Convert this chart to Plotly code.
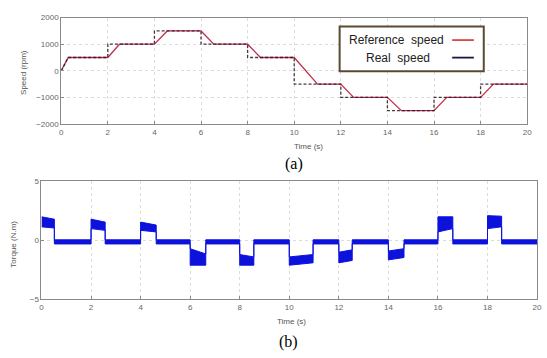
import plotly.graph_objects as go

W, H = 547, 358

# ---- Speed data (rpm) ----
ref_t = [0, 0.3, 2, 2.5, 4, 4.55, 6, 6.55, 8, 8.55, 10, 11, 12, 12.55, 14, 14.6, 16, 16.55, 18, 18.55, 20]
ref_v = [0, 500, 500, 1000, 1000, 1500, 1500, 1000, 1000, 500, 500, -500, -500, -1000, -1000, -1500, -1500, -1000, -1000, -500, -500]

real_t = [0, 0.3, 2, 2, 4, 4, 6, 6, 8, 8, 10, 10, 12, 12, 14, 14, 16, 16, 18, 18, 20]
real_v = [0, 500, 500, 1000, 1000, 1500, 1500, 1000, 1000, 500, 500, -500, -500, -1000, -1000, -1500, -1500, -1000, -1000, -500, -500]

# ---- Torque envelope (N.m) ----
torque_t = [0, 0.52, 0.52, 2, 2, 2.57, 2.57, 4, 4, 4.63, 4.63, 6, 6, 6.63, 6.63,
            8, 8, 8.57, 8.57, 10, 10, 10.96, 10.96, 12, 12, 12.54, 12.54,
            14, 14, 14.63, 14.63, 16, 16, 16.6, 16.6, 18, 18, 18.57, 18.57, 20]
torque_hi = [2.0, 1.8, 0.05, 0.05, 1.8, 1.55, 0.05, 0.05, 1.55, 1.3, 0.05, 0.05, -0.7, -1.15, 0.05,
             0.05, -1.2, -1.4, 0.05, 0.05, -1.4, -1.2, 0.05, 0.05, -1.0, -0.8, 0.05,
             0.05, -0.9, -0.7, 0.05, 0.05, 2.0, 2.0, 0.05, 0.05, 2.1, 2.05, 0.05, 0.05]
torque_lo = [1.15, 1.05, -0.3, -0.3, 1.0, 0.85, -0.3, -0.3, 0.85, 0.72, -0.3, -0.3, -2.1, -2.1, -0.3,
             -0.3, -2.1, -2.1, -0.3, -0.3, -2.1, -1.9, -0.3, -0.3, -1.9, -1.7, -0.3,
             -0.3, -1.65, -1.45, -0.3, -0.3, 0.72, 1.0, -0.3, -0.3, 1.0, 1.15, -0.3, -0.3]

x_ticks = [0, 2, 4, 6, 8, 10, 12, 14, 16, 18, 20]
speed_ticks = [-2000, -1000, 0, 1000, 2000]
torque_ticks = [-5, 0, 5]

def px(x):
    return x / W

def py(y):
    return 1 - y / H

BLUE = "#0c12dc"

fig = go.Figure()

fig.add_trace(go.Scatter(x=ref_t, y=ref_v, mode="lines", name="Reference speed",
                         line=dict(color="#c0304a", width=1.3),
                         xaxis="x", yaxis="y", showlegend=False))
fig.add_trace(go.Scatter(x=real_t, y=real_v, mode="lines", name="Real speed",
                         line=dict(color="#2a1428", width=1.3, dash="3px,2px"),
                         opacity=0.85,
                         xaxis="x", yaxis="y", showlegend=False))

# torque band as one closed polygon: upper envelope forward, lower envelope back
band_x = torque_t + torque_t[::-1]
band_y = torque_hi + torque_lo[::-1]
fig.add_trace(go.Scatter(x=band_x, y=band_y, mode="lines", fill="toself",
                         fillcolor=BLUE,
                         line=dict(color=BLUE, width=1, simplify=False),
                         xaxis="x2", yaxis="y2", showlegend=False))

tickfont = dict(family="Arial", size=8, color="#666")
axcommon = dict(showline=True, mirror=True, linecolor="#8a8a8a", linewidth=1,
                ticks="inside", ticklen=3, tickcolor="#8a8a8a",
                showgrid=True, gridcolor="#dcdcdc", griddash="dot", gridwidth=1,
                zeroline=False, tickfont=tickfont)

fig.update_layout(
    width=W, height=H, autosize=False,
    margin=dict(l=0, r=0, t=0, b=0),
    paper_bgcolor="white", plot_bgcolor="white",
    xaxis=dict(domain=[px(60), px(532)], range=[0, 20], tickvals=x_ticks,
               anchor="y", **axcommon),
    yaxis=dict(domain=[py(123), py(14)], range=[-2000, 2000], tickvals=speed_ticks,
               anchor="x", **axcommon),
    xaxis2=dict(domain=[px(40), px(542)], range=[0, 20], tickvals=x_ticks,
                anchor="y2", **axcommon),
    yaxis2=dict(domain=[py(303), py(182)], range=[-5, 5], tickvals=torque_ticks,
                anchor="x2", **axcommon),
)

small = dict(family="Arial", size=8, color="#555")
ann = [
    dict(text="Time (s)", x=px(310), y=py(146), xref="paper", yref="paper",
         showarrow=False, font=small, xanchor="center", yanchor="middle"),
    dict(text="Time (s)", x=px(293), y=py(326), xref="paper", yref="paper",
         showarrow=False, font=small, xanchor="center", yanchor="middle"),
    dict(text="Speed (rpm)", x=px(22), y=py(70), xref="paper", yref="paper",
         showarrow=False, font=small, textangle=-90, xanchor="center", yanchor="middle"),
    dict(text="Torque (N.m)", x=px(12), y=py(246), xref="paper", yref="paper",
         showarrow=False, font=small, textangle=-90, xanchor="center", yanchor="middle"),
    dict(text="(a)", x=px(296), y=py(164), xref="paper", yref="paper",
         showarrow=False, font=dict(family="Liberation Serif", size=16, color="black"),
         xanchor="center", yanchor="middle"),
    dict(text="(b)", x=px(290), y=py(347), xref="paper", yref="paper",
         showarrow=False, font=dict(family="Liberation Serif", size=16, color="black"),
         xanchor="center", yanchor="middle"),
    dict(text="Reference\u00a0\u00a0speed", x=px(450), y=py(37), xref="paper", yref="paper",
         showarrow=False, font=dict(family="Arial", size=12, color="#222"),
         xanchor="right", yanchor="middle"),
    dict(text="Real\u00a0\u00a0speed", x=px(436), y=py(55), xref="paper", yref="paper",
         showarrow=False, font=dict(family="Arial", size=12, color="#222"),
         xanchor="right", yanchor="middle"),
]
fig.update_layout(annotations=ann)

shapes = [
    dict(type="rect", xref="paper", yref="paper", x0=px(342), x1=px(488), y0=py(69), y1=py(23),
         line=dict(color="#5b4a30", width=2), fillcolor="white", layer="above"),
    dict(type="line", xref="paper", yref="paper", x0=px(456), x1=px(478), y0=py(37), y1=py(37),
         line=dict(color="#d0302a", width=1.6), layer="above"),
    dict(type="line", xref="paper", yref="paper", x0=px(456), x1=px(478), y0=py(55), y1=py(55),
         line=dict(color="#1a1a40", width=1.8), layer="above"),
]
fig.update_layout(shapes=shapes)

fig.write_html("out.html")
